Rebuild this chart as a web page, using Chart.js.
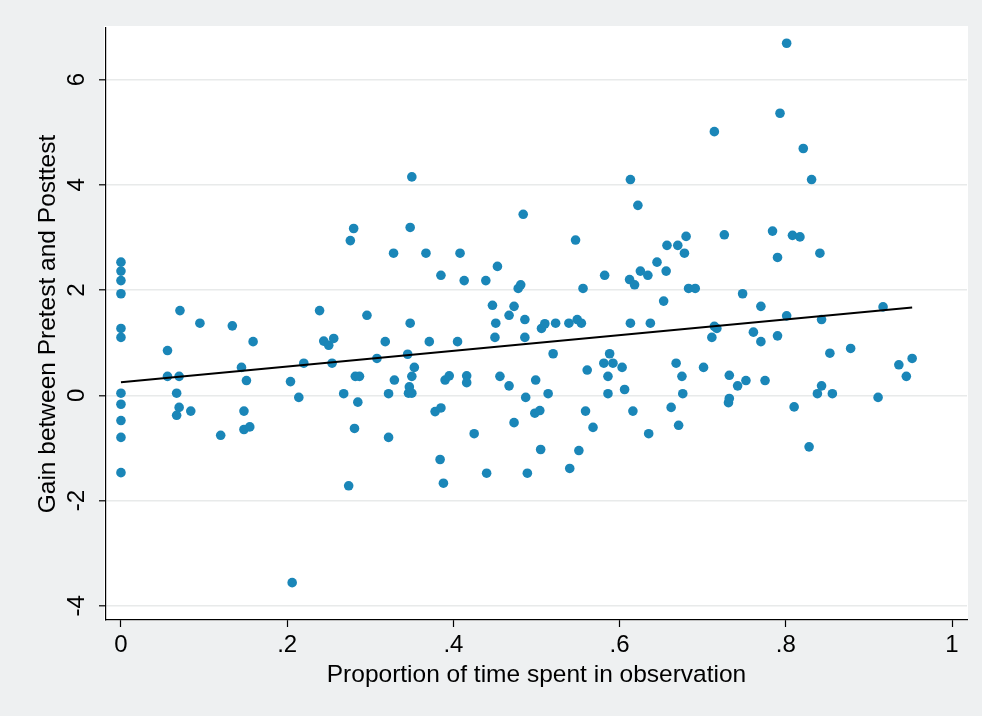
<!DOCTYPE html>
<html>
<head>
<meta charset="utf-8">
<script src="https://cdn.jsdelivr.net/npm/chart.js@4/dist/chart.umd.min.js"></script>
<style>
  html, body { margin: 0; padding: 0; background: #eef0f1; }
  #wrap { width: 982px; height: 716px; }
</style>
</head>
<body>
<div id="wrap"><canvas id="c" width="982" height="716"></canvas></div>
<script>
// ---- data ----
const proportion = [
  0, 0, 0, 0, 0, 0, 0, 0, 0, 0, 0,
  0.071, 0.095, 0.134, 0.159, 0.056, 0.056, 0.070, 0.145, 0.151, 0.204, 0.220, 0.214, 0.239,
  0.067, 0.070, 0.067, 0.084, 0.148, 0.148, 0.155, 0.120, 0.206,
  0.350, 0.484, 0.280, 0.348, 0.276, 0.328, 0.367, 0.408, 0.453, 0.385, 0.413, 0.439, 0.478, 0.481,
  0.296, 0.348, 0.447, 0.473, 0.467, 0.486, 0.451, 0.450, 0.486, 0.244, 0.250, 0.256, 0.318, 0.371,
  0.405, 0.345, 0.308, 0.254, 0.353, 0.282, 0.287, 0.329, 0.350, 0.347, 0.390, 0.395, 0.416, 0.416,
  0.456, 0.467, 0.268, 0.322, 0.346, 0.350, 0.285, 0.487, 0.378, 0.385, 0.281, 0.473, 0.425, 0.322,
  0.384, 0.274, 0.388, 0.440, 0.489,
  0.714, 0.613, 0.622, 0.547, 0.680, 0.657, 0.670, 0.678, 0.726, 0.645, 0.625, 0.634, 0.656, 0.612,
  0.618, 0.582, 0.556, 0.683, 0.691, 0.653, 0.506, 0.510, 0.523, 0.539, 0.549, 0.554, 0.613, 0.637,
  0.714, 0.717, 0.711, 0.520, 0.588, 0.581, 0.592, 0.603, 0.561, 0.586, 0.668, 0.675, 0.701, 0.732,
  0.742, 0.499, 0.514, 0.586, 0.606, 0.676, 0.498, 0.504, 0.559, 0.616, 0.662, 0.731, 0.732, 0.568,
  0.671, 0.635, 0.505, 0.551, 0.540,
  0.801, 0.793, 0.821, 0.831, 0.784, 0.808, 0.817, 0.790, 0.841, 0.748, 0.770, 0.801, 0.843, 0.917,
  0.761, 0.770, 0.790, 0.853, 0.878, 0.936, 0.952, 0.945, 0.752, 0.775, 0.843, 0.838, 0.856, 0.911,
  0.810, 0.828
];
const gain = [
  2.53, 2.36, 2.18, 1.93, 1.27, 1.10, 0.04, -0.17, -0.48, -0.80, -1.47,
  1.61, 1.37, 1.32, 1.02, 0.85, 0.36, 0.36, 0.53, 0.28, 0.26, 0.61, -0.04, 1.61,
  0.04, -0.23, -0.38, -0.30, -0.30, -0.65, -0.60, -0.76, -3.56,
  4.15, 3.44, 3.17, 3.19, 2.94, 2.70, 2.70, 2.70, 2.45, 2.28, 2.18, 2.18, 2.03, 2.10,
  1.52, 1.37, 1.71, 1.69, 1.52, 1.44, 1.37, 1.10, 1.10, 1.03, 0.95, 1.08, 1.02, 1.02,
  1.02, 0.78, 0.70, 0.61, 0.53, 0.36, 0.36, 0.29, 0.36, 0.16, 0.29, 0.37, 0.37, 0.24,
  0.36, 0.18, 0.03, 0.03, 0.04, 0.04, -0.13, -0.04, -0.31, -0.24, -0.63, -0.52, -0.73, -0.80,
  -1.22, -1.72, -1.67, -1.48, -1.48,
  5.01, 4.10, 3.61, 2.95, 3.02, 2.85, 2.85, 2.70, 3.05, 2.53, 2.36, 2.28, 2.36, 2.20,
  2.10, 2.28, 2.03, 2.03, 2.03, 1.79, 1.27, 1.36, 1.37, 1.37, 1.44, 1.37, 1.37, 1.37,
  1.31, 1.27, 1.10, 0.79, 0.79, 0.61, 0.61, 0.53, 0.48, 0.36, 0.61, 0.36, 0.53, 0.38,
  0.18, 0.29, 0.03, 0.03, 0.11, 0.03, -0.34, -0.29, -0.30, -0.30, -0.23, -0.14, -0.06, -0.61,
  -0.57, -0.73, -1.03, -1.05, -1.39,
  6.69, 5.36, 4.69, 4.10, 3.12, 3.04, 3.01, 2.62, 2.70, 1.93, 1.69, 1.51, 1.44, 1.68,
  1.20, 1.02, 1.13, 0.80, 0.89, 0.58, 0.70, 0.36, 0.28, 0.28, 0.18, 0.03, 0.03, -0.04,
  -0.22, -0.98
];
// fitted line end points
const fitX = [0, 0.952];
const fitY = [0.25, 1.67];

const xTickValues = [0, 0.2, 0.4, 0.6, 0.8, 1];
const xTickLabels = ['0', '.2', '.4', '.6', '.8', '1'];
const yTickValues = [-4, -2, 0, 2, 4, 6];
const yTickLabels = ['-4', '-2', '0', '2', '4', '6'];

const xTitle = 'Proportion of time spent in observation';
const yTitle = 'Gain between Pretest and Posttest';

// ---- chart ----
const scatterData = proportion.map((x, i) => ({ x: x, y: gain[i] }));
const fitData = fitX.map((x, i) => ({ x: x, y: fitY[i] }));

const bgPlugin = {
  id: 'bg',
  beforeDraw(chart) {
    const { ctx, chartArea: a } = chart;
    ctx.save();
    ctx.fillStyle = '#eef0f1';
    ctx.fillRect(0, 0, chart.width, chart.height);
    ctx.fillStyle = '#ffffff';
    ctx.fillRect(a.left - 2, a.top - 2, a.right - a.left + 3, a.bottom - a.top + 3);
    ctx.restore();
  }
};

const FONT = 'Liberation Sans, Arial, Helvetica, sans-serif';

new Chart(document.getElementById('c'), {
  type: 'scatter',
  data: {
    datasets: [
      {
        type: 'line',
        data: fitData,
        borderColor: '#000000',
        borderWidth: 2,
        pointRadius: 0,
        fill: false,
        tension: 0,
        order: 0
      },
      {
        type: 'scatter',
        data: scatterData,
        backgroundColor: '#1a86b8',
        borderWidth: 0,
        pointRadius: 4.8,
        pointHoverRadius: 4.8,
        order: 1
      }
    ]
  },
  options: {
    responsive: false,
    animation: false,
    events: [],
    layout: { padding: { top: 28, right: 15, left: 0, bottom: 0 } },
    plugins: { legend: { display: false }, tooltip: { enabled: false } },
    scales: {
      x: {
        type: 'linear',
        min: -0.018,
        max: 1.018,
        afterBuildTicks: (s) => { s.ticks = xTickValues.map(v => ({ value: v })); },
        afterFit: (s) => { s.height = 96; },
        border: { display: true, color: '#000000', width: 1.2 },
        grid: {
          drawOnChartArea: false,
          drawTicks: true,
          tickLength: 7,
          tickColor: '#000000',
          tickWidth: 1.2,
          color: '#000000'
        },
        ticks: {
          color: '#000000',
          font: { family: FONT, size: 24 },
          padding: 4,
          maxRotation: 0,
          minRotation: 0,
          autoSkip: false,
          callback: (v, i) => xTickLabels[i]
        },
        title: {
          display: true,
          text: xTitle,
          color: '#000000',
          font: { family: FONT, size: 24.5 },
          padding: { top: 0, bottom: 26 }
        }
      },
      y: {
        type: 'linear',
        min: -4.27,
        max: 6.98,
        afterBuildTicks: (s) => { s.ticks = yTickValues.map(v => ({ value: v })); },
        afterFit: (s) => { s.width = 106; },
        border: { display: true, color: '#000000', width: 1.2 },
        grid: {
          drawOnChartArea: true,
          drawTicks: true,
          tickLength: 7,
          tickColor: '#000000',
          tickWidth: 1.2,
          color: '#e8eaea',
          lineWidth: 1.6
        },
        ticks: {
          color: '#000000',
          font: { family: FONT, size: 24 },
          padding: 11,
          minRotation: 90,
          maxRotation: 90,
          crossAlign: 'center',
          autoSkip: false,
          callback: (v, i) => yTickLabels[i]
        },
        title: {
          display: true,
          text: yTitle,
          color: '#000000',
          font: { family: FONT, size: 24.5 },
          padding: { top: 34, bottom: 0 }
        }
      }
    }
  },
  plugins: [bgPlugin]
});
</script>
</body>
</html>
